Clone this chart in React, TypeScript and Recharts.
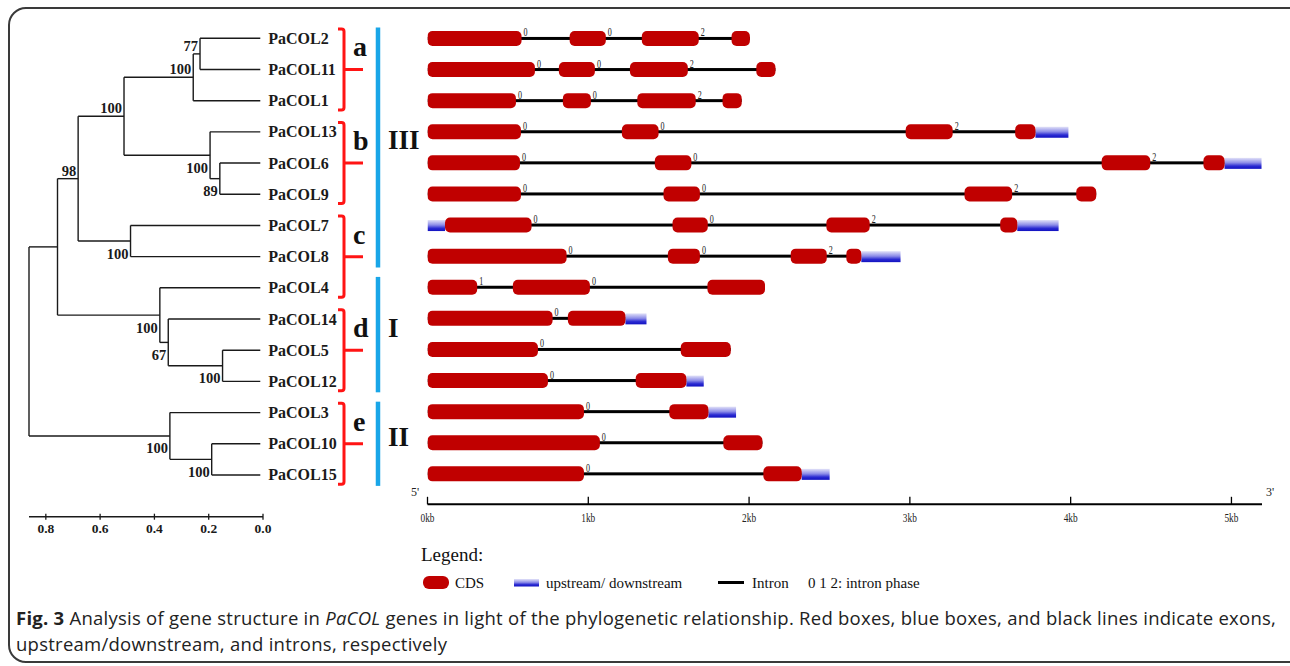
import React from 'react';
import {
  Bar,
  BarChart,
  ComposedChart,
  LabelList,
  ReferenceLine,
  Scatter,
  XAxis,
  YAxis,
} from 'recharts';

const SERIF = "'Liberation Serif', 'Times New Roman', serif";
const SANS = "'Open Sans', 'Noto Sans', sans-serif";

// genes, top to bottom (same order as tree leaves)
const genes = [
  'PaCOL2', 'PaCOL11', 'PaCOL1', 'PaCOL13', 'PaCOL6', 'PaCOL9', 'PaCOL7', 'PaCOL8',
  'PaCOL4', 'PaCOL14', 'PaCOL5', 'PaCOL12', 'PaCOL3', 'PaCOL10', 'PaCOL15',
];

// exon ranges in kb, one per gene (null = gene has no such exon)
const exon1 = [
  [0, 0.585], [0, 0.668], [0, 0.55], [0, 0.581], [0, 0.575], [0, 0.581], [0.109, 0.647], [0, 0.865],
  [0, 0.309], [0, 0.778], [0, 0.687], [0, 0.749], [0, 0.973], [0, 1.072], [0, 0.973],
];
const exon2 = [
  [0.884, 1.109], [0.817, 1.041], [0.842, 1.016], [1.209, 1.437], [1.414, 1.641], [1.468, 1.694],
  [1.524, 1.743], [1.495, 1.694], [0.531, 1.01], [0.873, 1.231], [1.575, 1.886], [1.295, 1.61],
  [1.504, 1.747], [1.84, 2.083], [2.089, 2.327],
];
const exon3 = [
  [1.333, 1.687], [1.259, 1.619], [1.305, 1.668], [2.974, 3.266], [4.193, 4.495], [3.34, 3.636],
  [2.481, 2.75], [2.259, 2.483], [1.741, 2.099], null, null, null, null, null, null,
];
const exon4 = [
  [1.891, 2.005], [2.045, 2.164], [1.835, 1.954], [3.655, 3.781], [4.826, 4.957], [4.035, 4.159],
  [3.562, 3.668], [2.605, 2.698], null, null, null, null, null, null, null,
];
const utr5 = [null, null, null, null, null, null, [0, 0.109], null, null, null, null, null, null, null, null];
const utr3 = [
  null, null, null, [3.781, 3.986], [4.957, 5.187], null, [3.668, 3.925], [2.698, 2.942],
  null, [1.231, 1.362], null, [1.61, 1.718], [1.747, 1.919], null, [2.327, 2.501],
];
// intron phase after exon 1, 2, 3
const phase1 = [0, 0, 0, 0, 0, 0, 0, 0, 1, 0, 0, 0, 0, 0, 0];
const phase2 = [0, 0, 0, 0, 0, 0, 0, 0, 0, null, null, null, null, null, null];
const phase3 = [2, 2, 2, 2, 2, 2, 2, 2, null, null, null, null, null, null, null];

const kbTicks = [0, 1, 2, 3, 4, 5];

// tree: internal nodes, branch length from tips
const nodeIds = ['n2_11', 'nA', 'n6_9', 'nB', 'nAB', 'nC', 'nABC', 'n5_12', 'nD', 'nI', 'nABCI', 'n10_15', 'nII', 'root'];
const nodeDist = [0.232, 0.257, 0.159, 0.195, 0.512, 0.488, 0.681, 0.149, 0.349, 0.38, 0.757, 0.189, 0.343, 0.862];
const nodeChildren = [
  ['PaCOL2', 'PaCOL11'], ['n2_11', 'PaCOL1'], ['PaCOL6', 'PaCOL9'], ['PaCOL13', 'n6_9'],
  ['nA', 'nB'], ['PaCOL7', 'PaCOL8'], ['nAB', 'nC'], ['PaCOL5', 'PaCOL12'], ['PaCOL14', 'n5_12'],
  ['PaCOL4', 'nD'], ['nABC', 'nI'], ['PaCOL10', 'PaCOL15'], ['PaCOL3', 'n10_15'], ['nABCI', 'nII'],
];
const bootstrap = [77, 100, 89, 100, 100, 100, 98, 100, 67, 100, null, 100, 100, null];
const bootstrapSide = ['above', 'above', 'below', 'below', 'above', 'below', 'above', 'below', 'below', 'below', null, 'below', 'below', null];
const treeTicks = [0.8, 0.6, 0.4, 0.2, 0];

const clades = ['a', 'b', 'c', 'd', 'e'];
const cladeFrom = ['PaCOL2', 'PaCOL13', 'PaCOL7', 'PaCOL14', 'PaCOL3'];
const cladeTo = ['PaCOL1', 'PaCOL9', 'PaCOL4', 'PaCOL12', 'PaCOL15'];
const groups = ['III', 'I', 'II'];
const groupFrom = ['PaCOL2', 'PaCOL4', 'PaCOL3'];
const groupTo = ['PaCOL8', 'PaCOL12', 'PaCOL15'];

const legendItems = ['CDS', 'upstream/ downstream', 'Intron', '0 1 2: intron phase'];

// ---------- derived tables ----------
const geneRows = genes.map((gene, i) => {
  const ex = [exon1[i], exon2[i], exon3[i], exon4[i]].filter(Boolean) as number[][];
  return {
    gene,
    intron: [ex[0][0], ex[ex.length - 1][1]],
    utr5: utr5[i],
    utr3: utr3[i],
    exon1: exon1[i],
    exon2: exon2[i],
    exon3: exon3[i],
    exon4: exon4[i],
    ph1: phase1[i],
    ph2: phase2[i],
    ph3: phase3[i],
  };
});

const LEAF_TIP = 0.01;
const isLeaf = (id: string) => genes.includes(id);
const distOf = (id: string) => (isLeaf(id) ? LEAF_TIP : nodeDist[nodeIds.indexOf(id)]);
const yOf = (id: string): number => {
  if (isLeaf(id)) return genes.indexOf(id);
  const ch = nodeChildren[nodeIds.indexOf(id)];
  return (yOf(ch[0]) + yOf(ch[ch.length - 1])) / 2;
};

const branches: { x: number; y: number }[][] = [];
nodeIds.forEach((id, i) => {
  const d = nodeDist[i];
  const ch = nodeChildren[i];
  branches.push([{ x: d, y: yOf(ch[0]) }, { x: d, y: yOf(ch[ch.length - 1]) }]);
  ch.forEach((c) => branches.push([{ x: d, y: yOf(c) }, { x: distOf(c), y: yOf(c) }]));
});

const leafPoints = genes.map((g, i) => ({ x: LEAF_TIP, y: i, name: g }));
const supportPoints = nodeIds
  .map((id, i) => ({ x: nodeDist[i], y: yOf(id), label: bootstrap[i], side: bootstrapSide[i] }))
  .filter((p) => p.label != null);

const BRACKET_X = -0.2984;
const GROUP_X = -0.4236;

// ---------- shapes ----------
const ExonShape = (p: any) => {
  if (!p.width || p.width <= 0.5) return null;
  return <rect x={p.x} y={p.y + p.height / 2 - 7.5} width={p.width} height={15} rx={5} fill='#c00000' />;
};

const UtrShape = (p: any) => {
  if (!p.width || p.width <= 0.5) return null;
  return <rect x={p.x} y={p.y + p.height / 2 - 5} width={p.width} height={11} fill='url(#utrGrad)' />;
};

const IntronShape = (p: any) => {
  if (!p.width || p.width <= 0.5) return null;
  return <rect x={p.x} y={p.y + p.height / 2 - 1.5} width={p.width} height={3} fill='#000' />;
};

const PhaseLabel = (p: any) => {
  if (p.value == null) return null;
  const vb = p.viewBox ?? p;
  if (!vb.width || vb.width <= 0.5) return null;
  const x = vb.x + vb.width + 2;
  const y = vb.y + vb.height / 2 - 2;
  return (
    <text transform={`translate(${x},${y}) scale(0.7,1)`} fontFamily={SERIF} fontSize={11.5} fill='#222'>
      {p.value}
    </text>
  );
};

const KbTick = (p: any) => {
  const { x, y, payload } = p;
  return (
    <g>
      <line x1={x} x2={x} y1={y - 7.5} y2={y} stroke='#000' strokeWidth={1.3} />
      <text x={x} y={y + 18} textAnchor='middle' fontFamily={SERIF} fontSize={12} textLength={14} lengthAdjust='spacingAndGlyphs' fill='#222'>
        {`${payload.value}kb`}
      </text>
    </g>
  );
};

const TreeTick = (p: any) => {
  const { x, y, payload } = p;
  return (
    <g>
      <line x1={x} x2={x} y1={y - 3} y2={y + 3} stroke='#1a1a1a' strokeWidth={1.3} />
      <text x={x} y={y + 16.5} textAnchor='middle' fontFamily={SERIF} fontWeight='bold' fontSize={13.5} fill='#1a1a1a'>
        {Number(payload.value).toFixed(1)}
      </text>
    </g>
  );
};

const LeafLabel = (p: any) => (
  <text x={p.cx + 8} y={p.cy + 5.5} fontFamily={SERIF} fontWeight='bold' fontSize={16} fill='#1a1a1a'>
    {p.payload.name}
  </text>
);

const SupportLabel = (p: any) => (
  <text
    x={p.cx - 2}
    y={p.payload.side === 'above' ? p.cy - 3 : p.cy + 17.5}
    textAnchor='end'
    fontFamily={SERIF}
    fontWeight='bold'
    fontSize={14.5}
    fill='#1a1a1a'
  >
    {p.payload.label}
  </text>
);

const cladeShape = (letter: string) => (p: any) => {
  const x = p.x1;
  const top = Math.min(p.y1, p.y2);
  const bot = Math.max(p.y1, p.y2);
  const mid = (top + bot) / 2;
  return (
    <g>
      <path
        d={`M${x - 6},${top} L${x - 2.5},${top} Q${x},${top} ${x},${top + 2.5} L${x},${bot - 2.5} Q${x},${bot} ${x - 2.5},${bot} L${x - 6},${bot} M${x},${mid} L${x + 19},${mid}`}
        stroke='#ff1414'
        strokeWidth={3}
        fill='none'
      />
      <text x={x + 9} y={mid - 13} fontFamily={SERIF} fontWeight='bold' fontSize={28} fill='#111'>
        {letter}
      </text>
    </g>
  );
};

const groupShape = (label: string) => (p: any) => {
  const x = p.x1;
  const top = Math.min(p.y1, p.y2);
  const bot = Math.max(p.y1, p.y2);
  const mid = (top + bot) / 2;
  return (
    <g>
      <line x1={x} x2={x} y1={top} y2={bot} stroke='#19a6e8' strokeWidth={4.5} />
      <text x={x + 10} y={mid + 2} fontFamily={SERIF} fontWeight='bold' fontSize={27} fill='#111'>
        {label}
      </text>
    </g>
  );
};

// ---------- charts ----------
const TreeChart = () => (
  <ComposedChart width={1290} height={666} margin={{ top: 38.3, right: 1027, bottom: 119.3, left: 29 }}>
    <XAxis
      type='number'
      dataKey='x'
      domain={[0, 0.862]}
      reversed
      ticks={treeTicks}
      interval={0}
      tick={TreeTick}
      tickLine={false}
      tickSize={0}
      tickMargin={0}
      height={30}
      axisLine={{ stroke: '#1a1a1a', strokeWidth: 1.5 }}
    />
    <YAxis type='number' dataKey='y' domain={[0, 15.338]} reversed hide width={0} />
    {branches.map((seg, i) => (
      <ReferenceLine key={`br${i}`} segment={seg} stroke='#1a1a1a' strokeWidth={1.4} ifOverflow='visible' />
    ))}
    {clades.map((c, i) => (
      <ReferenceLine
        key={`cl${c}`}
        segment={[
          { x: BRACKET_X, y: genes.indexOf(cladeFrom[i]) - 0.3 },
          { x: BRACKET_X, y: genes.indexOf(cladeTo[i]) + 0.3 },
        ]}
        ifOverflow='visible'
        shape={cladeShape(c)}
      />
    ))}
    {groups.map((g, i) => (
      <ReferenceLine
        key={`gr${g}`}
        segment={[
          { x: GROUP_X, y: genes.indexOf(groupFrom[i]) - 0.35 },
          { x: GROUP_X, y: genes.indexOf(groupTo[i]) + 0.35 },
        ]}
        ifOverflow='visible'
        shape={groupShape(g)}
      />
    ))}
    <Scatter data={leafPoints} shape={LeafLabel} isAnimationActive={false} />
    <Scatter data={supportPoints} shape={SupportLabel} isAnimationActive={false} />
  </ComposedChart>
);

const GeneChart = () => (
  <BarChart
    width={1290}
    height={666}
    data={geneRows}
    layout='vertical'
    barSize={16}
    barGap={-16}
    margin={{ top: 22.45, right: 28, bottom: 131.7, left: 427.5 }}
  >
    <XAxis
      type='number'
      domain={[0, 5.19]}
      allowDataOverflow
      ticks={kbTicks}
      interval={0}
      tick={KbTick}
      tickLine={false}
      tickSize={0}
      tickMargin={0}
      height={30}
      axisLine={{ stroke: '#000', strokeWidth: 2 }}
    />
    <YAxis type='category' dataKey='gene' hide width={0} padding={{ top: 0, bottom: 15.35 }} />
    <Bar dataKey='intron' shape={IntronShape} isAnimationActive={false} />
    <Bar dataKey='utr5' shape={UtrShape} isAnimationActive={false} />
    <Bar dataKey='utr3' shape={UtrShape} isAnimationActive={false} />
    <Bar dataKey='exon1' shape={ExonShape} isAnimationActive={false}>
      <LabelList dataKey='ph1' content={PhaseLabel} />
    </Bar>
    <Bar dataKey='exon2' shape={ExonShape} isAnimationActive={false}>
      <LabelList dataKey='ph2' content={PhaseLabel} />
    </Bar>
    <Bar dataKey='exon3' shape={ExonShape} isAnimationActive={false}>
      <LabelList dataKey='ph3' content={PhaseLabel} />
    </Bar>
    <Bar dataKey='exon4' shape={ExonShape} isAnimationActive={false} />
  </BarChart>
);

const Overlay = () => (
  <svg width={1290} height={666} style={{ position: 'absolute', left: 0, top: 0, pointerEvents: 'none' }}>
    <defs>
      <linearGradient id='utrGrad' x1='0' y1='0' x2='0' y2='1'>
        <stop offset='0%' stopColor='#e2e2f8' />
        <stop offset='45%' stopColor='#8c8ce8' />
        <stop offset='75%' stopColor='#2a2ad2' />
        <stop offset='100%' stopColor='#1212c0' />
      </linearGradient>
    </defs>
    <text x={411} y={496} fontFamily={SERIF} fontSize={12} fill='#222'>5'</text>
    <text x={1266} y={496} fontFamily={SERIF} fontSize={12} fill='#222'>3'</text>

    <text x={421} y={561} fontFamily={SERIF} fontSize={19} fill='#111'>Legend:</text>
    <rect x={423} y={576} width={26} height={13} rx={6} fill='#c00000' />
    <text x={455} y={588} fontFamily={SERIF} fontSize={15} fill='#111'>{legendItems[0]}</text>
    <rect x={514} y={579} width={25} height={7.5} fill='url(#utrGrad)' />
    <text x={546} y={588} fontFamily={SERIF} fontSize={15} fill='#111'>{legendItems[1]}</text>
    <line x1={718} x2={744} y1={582.5} y2={582.5} stroke='#000' strokeWidth={3} />
    <text x={752} y={588} fontFamily={SERIF} fontSize={15} fill='#111'>{legendItems[2]}</text>
    <text x={808} y={588} fontFamily={SERIF} fontSize={15} fill='#111'>{legendItems[3]}</text>
  </svg>
);

const captionLine = { whiteSpace: 'nowrap' as const, height: 25.5 };

const Caption = () => (
  <div
    style={{
      position: 'absolute',
      left: 16,
      top: 605,
      fontFamily: SANS,
      fontSize: 18.5,
      letterSpacing: '0.25px',
      lineHeight: '25.5px',
      color: '#222',
    }}
  >
    <div style={captionLine}>
      <span style={{ fontWeight: 700 }}>Fig. 3</span>
      <span>{' Analysis of gene structure in '}</span>
      <span style={{ fontStyle: 'italic' }}>PaCOL</span>
      <span>{' genes in light of the phylogenetic relationship. Red boxes, blue boxes, and black lines indicate exons,'}</span>
    </div>
    <div style={captionLine}>
      <span>upstream/downstream, and introns, respectively</span>
    </div>
  </div>
);

export default function App() {
  return (
    <div style={{ position: 'absolute', left: 0, top: 0, width: 1290, height: 666, overflow: 'hidden', background: '#fff' }}>
      <div
        style={{
          position: 'absolute',
          left: 8,
          top: 7,
          width: 1320,
          height: 652,
          border: '2px solid #3a3a3a',
          borderRadius: 18,
        }}
      />
      <div style={{ position: 'absolute', left: 0, top: 0 }}>
        <TreeChart />
      </div>
      <div style={{ position: 'absolute', left: 0, top: 0 }}>
        <GeneChart />
      </div>
      <Overlay />
      <Caption />
    </div>
  );
}
